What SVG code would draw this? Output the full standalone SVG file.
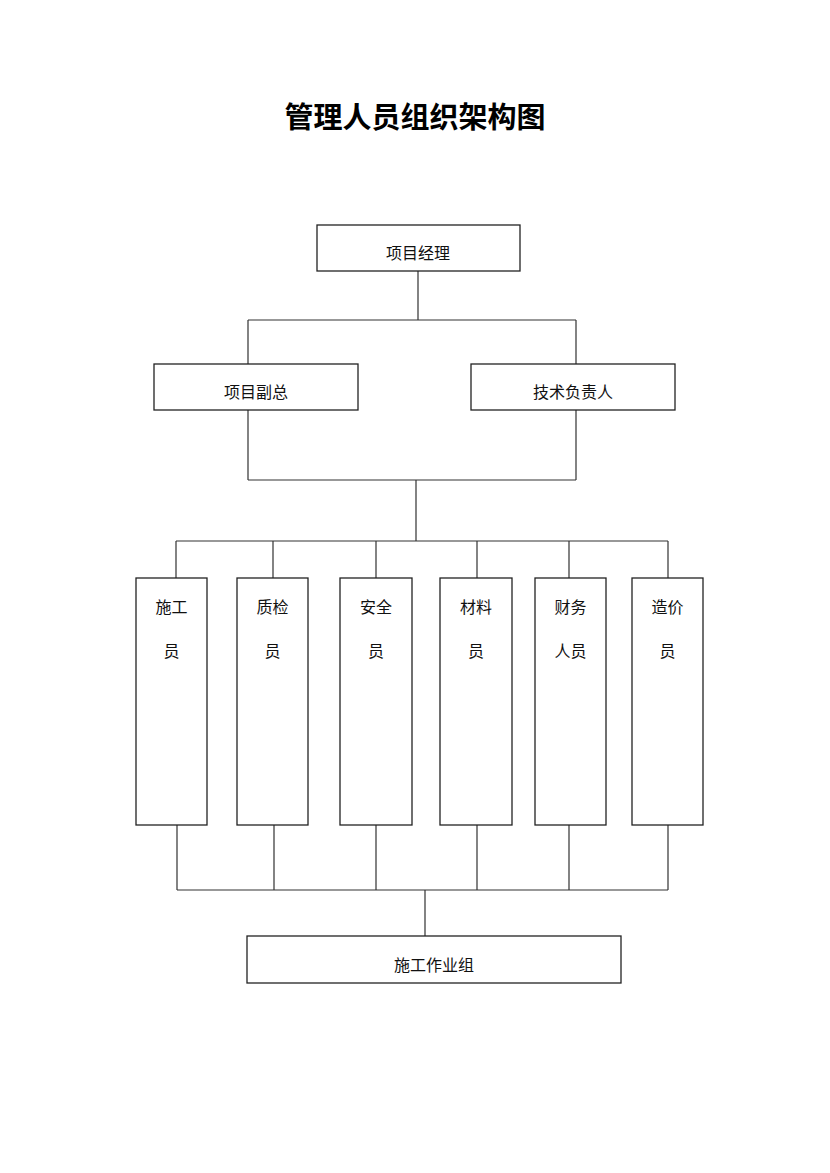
<svg xmlns="http://www.w3.org/2000/svg" width="830" height="1173" viewBox="0 0 830 1173">
<style>
.box{fill:#fff;stroke:#222;stroke-width:1.3}
.ln{fill:none;stroke:#333;stroke-width:1.2}
.t{font-family:"Noto Sans CJK SC","Noto Sans",sans-serif;font-size:16px;fill:#111;text-anchor:middle}
.title{font-family:"Noto Sans CJK SC","Noto Sans",sans-serif;font-size:29px;font-weight:bold;fill:#000;text-anchor:middle}
</style>
<rect width="830" height="1173" fill="#fff"/>
<text class="title" x="415" y="128">管理人员组织架构图</text>
<g id="connectors">
<path class="ln" d="M418 271V320M248 320H576M248 320V364M576 320V364"/>
<path class="ln" d="M248 410V480M576 410V480M248 480H576M416 480V541"/>
<path class="ln" d="M176 541H668M176 541V578M273 541V578M376 541V578M477 541V578M569 541V578M668 541V578"/>
<path class="ln" d="M177 825V890M274 825V890M376 825V890M477 825V890M569 825V890M668 825V890M177 890H668M425 890V936"/>
</g>
<g id="n-pm"><rect class="box" x="317" y="225" width="203" height="46"/><text class="t" x="418" y="259">项目经理</text></g>
<g id="n-deputy"><rect class="box" x="154" y="364" width="204" height="46"/><text class="t" x="256" y="398">项目副总</text></g>
<g id="n-tech"><rect class="box" x="471" y="364" width="204" height="46"/><text class="t" x="573" y="398">技术负责人</text></g>
<g id="n-sg"><rect class="box" x="136" y="578" width="71" height="247"/><text class="t" x="171.5" y="613">施工</text><text class="t" x="171.5" y="657">员</text></g>
<g id="n-zj"><rect class="box" x="237" y="578" width="71" height="247"/><text class="t" x="272.5" y="613">质检</text><text class="t" x="272.5" y="657">员</text></g>
<g id="n-aq"><rect class="box" x="340" y="578" width="72" height="247"/><text class="t" x="376" y="613">安全</text><text class="t" x="376" y="657">员</text></g>
<g id="n-cl"><rect class="box" x="440" y="578" width="72" height="247"/><text class="t" x="476" y="613">材料</text><text class="t" x="476" y="657">员</text></g>
<g id="n-cw"><rect class="box" x="535" y="578" width="71" height="247"/><text class="t" x="570.5" y="613">财务</text><text class="t" x="570.5" y="657">人员</text></g>
<g id="n-zjy"><rect class="box" x="632" y="578" width="71" height="247"/><text class="t" x="667.5" y="613">造价</text><text class="t" x="667.5" y="657">员</text></g>
<g id="n-team"><rect class="box" x="247" y="936" width="374" height="47"/><text class="t" x="434" y="971">施工作业组</text></g>
</svg>
